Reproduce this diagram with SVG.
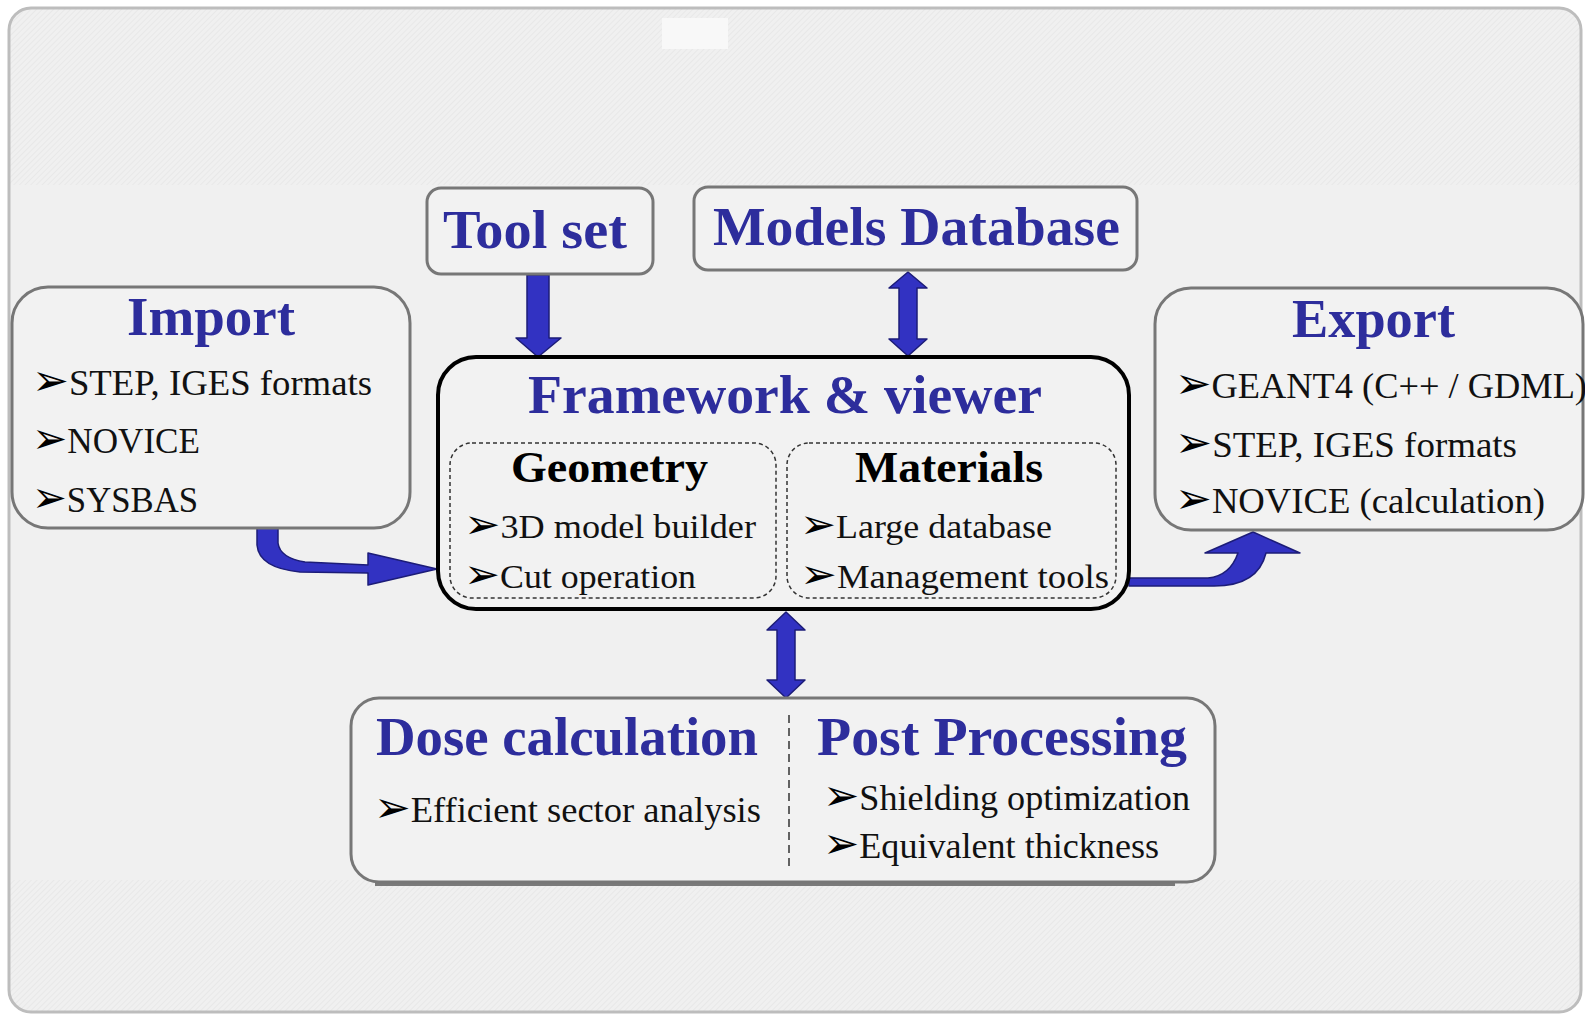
<svg xmlns="http://www.w3.org/2000/svg" width="1585" height="1016" viewBox="0 0 1585 1016">
<defs>
<pattern id="hatch" width="4" height="4" patternUnits="userSpaceOnUse" patternTransform="rotate(45)">
<rect width="4" height="4" fill="#f0f0f0"/>
<line x1="0" y1="0" x2="0" y2="4" stroke="#e3e3e3" stroke-width="1.2"/>
</pattern>
<clipPath id="frameClip"><rect x="9" y="8" width="1572" height="1004" rx="22"/></clipPath>
<style>
.box{fill:#f2f2f2;stroke:#777;stroke-width:3}
.main{fill:#f2f2f2;stroke:#000;stroke-width:4}
.dash{fill:none;stroke:#333;stroke-width:1.5;stroke-dasharray:4 3}
.title{font-family:"Liberation Serif","Times New Roman",serif;font-weight:bold;font-size:55px;fill:#2d2d9c}
.sub{font-family:"Liberation Serif","Times New Roman",serif;font-weight:bold;font-size:44px;fill:#000}
.item{font-family:"Liberation Serif","DejaVu Sans",serif;font-size:36px;fill:#111}
.item2{font-family:"Liberation Serif","DejaVu Sans",serif;font-size:34px;fill:#111}
.b{font-family:"DejaVu Sans",sans-serif;font-size:1.2em;fill:#000}
.arrow{fill:#3232c2;stroke:#1c1c78;stroke-width:1.5;stroke-linejoin:round}
</style>
</defs>
<rect width="1585" height="1016" fill="#ffffff"/>
<g id="background" clip-path="url(#frameClip)">
<rect x="9" y="8" width="1572" height="1004" fill="#f0f0f0"/>
<rect x="9" y="8" width="1572" height="177" fill="url(#hatch)"/>
<rect x="9" y="880" width="1572" height="132" fill="url(#hatch)"/>
<rect x="662" y="18" width="66" height="31" fill="#f8f8f8"/>
</g>
<rect x="9" y="8" width="1572" height="1004" rx="22" fill="none" stroke="#bdbdbd" stroke-width="3"/>

<g id="connectors">
<path class="arrow" d="M527,275 H549 V338 H561 L538,357 L516,338 H527 Z"/>
<path class="arrow" d="M908,272 L927,288 H917 V339 H927 L908,356 L889,339 H899 V288 H889 Z"/>
<path class="arrow" d="M786,612 L805,630 H795 V680 H805 L786,698 L767,680 H777 V630 H767 Z"/>
<path class="arrow" d="M257,527 H278 V543 Q280,558 305,562 L368,565 V553 L437,569 L368,585 V573 L300,572 Q259,568 257,545 Z"/>
<path class="arrow" d="M1129,578 H1208 Q1230,576 1238,553 H1205 L1253,532 L1300,553 H1266 Q1258,586 1214,586 H1129 Z"/>
</g>

<g id="toolset">
<rect class="box" x="427" y="188" width="226" height="86" rx="14"/>
<text class="title" x="443" y="248" textLength="184" lengthAdjust="spacingAndGlyphs">Tool set</text>
</g>

<g id="models-database">
<rect class="box" x="694" y="187" width="443" height="83" rx="14"/>
<text class="title" x="713" y="245" textLength="407" lengthAdjust="spacingAndGlyphs">Models Database</text>
</g>

<g id="import">
<rect class="box" x="12" y="287" width="398" height="241" rx="36"/>
<text class="title" x="127" y="335" textLength="168" lengthAdjust="spacingAndGlyphs">Import</text>
<text class="item" x="32" y="395" textLength="340" lengthAdjust="spacingAndGlyphs"><tspan class="b">➢</tspan>STEP, IGES formats</text>
<text class="item" x="32" y="453" textLength="168" lengthAdjust="spacingAndGlyphs"><tspan class="b">➢</tspan>NOVICE</text>
<text class="item" x="32" y="512" textLength="166" lengthAdjust="spacingAndGlyphs"><tspan class="b">➢</tspan>SYSBAS</text>
</g>

<g id="export">
<rect class="box" x="1155" y="288" width="428" height="242" rx="36"/>
<text class="title" x="1292" y="337" textLength="163" lengthAdjust="spacingAndGlyphs">Export</text>
<text class="item" x="1175" y="398" textLength="412" lengthAdjust="spacingAndGlyphs"><tspan class="b">➢</tspan>GEANT4 (C++ / GDML)</text>
<text class="item" x="1175" y="457" textLength="342" lengthAdjust="spacingAndGlyphs"><tspan class="b">➢</tspan>STEP, IGES formats</text>
<text class="item" x="1175" y="513" textLength="370" lengthAdjust="spacingAndGlyphs"><tspan class="b">➢</tspan>NOVICE (calculation)</text>
</g>

<g id="framework">
<rect class="main" x="438" y="357" width="691" height="252" rx="38"/>
<text class="title" x="528" y="413" textLength="514" lengthAdjust="spacingAndGlyphs">Framework &amp; viewer</text>
<g id="geometry">
<rect class="dash" x="450" y="443" width="326" height="155" rx="22"/>
<text class="sub" x="511" y="482" textLength="197" lengthAdjust="spacingAndGlyphs">Geometry</text>
<text class="item2" x="464" y="538" textLength="292" lengthAdjust="spacingAndGlyphs"><tspan class="b">➢</tspan>3D model builder</text>
<text class="item2" x="464" y="588" textLength="232" lengthAdjust="spacingAndGlyphs"><tspan class="b">➢</tspan>Cut operation</text>
</g>
<g id="materials">
<rect class="dash" x="787" y="443" width="329" height="155" rx="22"/>
<text class="sub" x="855" y="482" textLength="188" lengthAdjust="spacingAndGlyphs">Materials</text>
<text class="item2" x="800" y="538" textLength="252" lengthAdjust="spacingAndGlyphs"><tspan class="b">➢</tspan>Large database</text>
<text class="item2" x="800" y="588" textLength="309" lengthAdjust="spacingAndGlyphs"><tspan class="b">➢</tspan>Management tools</text>
</g>
</g>

<g id="dose-post">
<rect x="375" y="880" width="800" height="6" fill="#7a7a7a"/>
<rect class="box" x="351" y="698" width="864" height="184" rx="28"/>
<line x1="789" y1="715" x2="789" y2="867" stroke="#333" stroke-width="1.5" stroke-dasharray="8 5"/>
<text class="title" x="376" y="755" textLength="382" lengthAdjust="spacingAndGlyphs">Dose calculation</text>
<text class="title" x="817" y="755" textLength="370" lengthAdjust="spacingAndGlyphs">Post Processing</text>
<text class="item" x="374" y="822" textLength="387" lengthAdjust="spacingAndGlyphs"><tspan class="b">➢</tspan>Efficient sector analysis</text>
<text class="item" x="823" y="810" textLength="367" lengthAdjust="spacingAndGlyphs"><tspan class="b">➢</tspan>Shielding optimization</text>
<text class="item" x="823" y="858" textLength="336" lengthAdjust="spacingAndGlyphs"><tspan class="b">➢</tspan>Equivalent thickness</text>
</g>
</svg>
